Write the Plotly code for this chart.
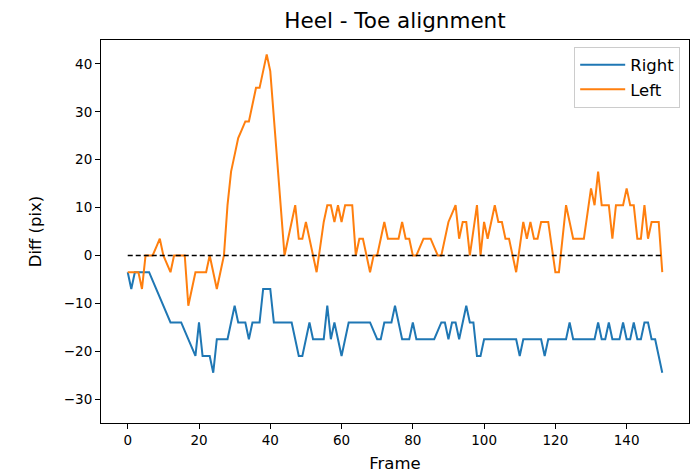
import plotly.graph_objects as go

frames = list(range(151))

right = [
    -3.5, -7, -3.5, -3.5, -3.5, -3.5, -3.5, -5.25, -7, -8.75,
    -10.5, -12.25, -14, -14, -14, -14, -15.75, -17.5, -19.25, -21,
    -14, -21, -21, -21, -24.5, -17.5, -17.5, -17.5, -17.5, -14,
    -10.5, -14, -14, -14, -17.5, -14, -14, -14, -7, -7,
    -7, -14, -14, -14, -14, -14, -14, -17.5, -21, -21,
    -17.5, -14, -17.5, -17.5, -17.5, -17.5, -10.5, -17.5, -14, -17.5,
    -21, -17.5, -14, -14, -14, -14, -14, -14, -14, -15.75,
    -17.5, -17.5, -14, -14, -14, -10.5, -14, -17.5, -17.5, -17.5,
    -14, -17.5, -17.5, -17.5, -17.5, -17.5, -17.5, -15.75, -14, -14,
    -17.5, -14, -14, -17.5, -14, -10.5, -14, -14, -21, -21,
    -17.5, -17.5, -17.5, -17.5, -17.5, -17.5, -17.5, -17.5, -17.5, -17.5,
    -21, -17.5, -17.5, -17.5, -17.5, -17.5, -17.5, -21, -17.5, -17.5,
    -17.5, -17.5, -17.5, -17.5, -14, -17.5, -17.5, -17.5, -17.5, -17.5,
    -17.5, -17.5, -14, -17.5, -17.5, -14, -17.5, -17.5, -17.5, -14,
    -17.5, -17.5, -14, -17.5, -17.5, -14, -14, -17.5, -17.5, -21,
    -24.5,
]

left = [
    -3.5, -3.5, -3.5, -3.5, -7, 0, 0, 0, 1.75, 3.5,
    0, -1.75, -3.5, 0, 0, 0, 0, -10.5, -7, -3.5,
    -3.5, -3.5, -3.5, 0, -3.5, -7, -3.5, 0, 10.5, 17.5,
    21, 24.5, 26.25, 28, 28, 31.5, 35, 35, 38.5, 42,
    38.5, 29, 19, 9, 0, 3.5, 7, 10.5, 3.5, 3.5,
    7, 3.5, 0, -3.5, 1.75, 7, 10.5, 10.5, 7, 10.5,
    7, 10.5, 10.5, 10.5, 0, 3.5, 3.5, 0, -3.5, 0,
    0, 3.5, 7, 3.5, 3.5, 3.5, 3.5, 7, 3.5, 3.5,
    0, 0, 1.75, 3.5, 3.5, 3.5, 1.75, 0, 0, 3.5,
    7, 8.75, 10.5, 3.5, 7, 7, 0, 5.25, 10.5, 0,
    7, 3.5, 7, 10.5, 7, 7, 3.5, 3.5, 0, -3.5,
    1.75, 7, 3.5, 7, 3.5, 3.5, 7, 7, 7, 1.75,
    -3.5, -3.5, 3.5, 10.5, 7, 3.5, 3.5, 3.5, 3.5, 8.75,
    14, 10.5, 17.5, 10.5, 10.5, 10.5, 3.5, 10.5, 10.5, 10.5,
    14, 10.5, 10.5, 3.5, 3.5, 10.5, 3.5, 7, 7, 7,
    -3.5,
]

baseline_x = [frames[0], frames[-1]]
baseline_y = [0, 0]

x_ticks = [0, 20, 40, 60, 80, 100, 120, 140]
y_ticks = [-30, -20, -10, 0, 10, 20, 30, 40]

fig = go.Figure()
fig.add_trace(go.Scatter(x=frames, y=right, mode="lines", name="Right",
                         line=dict(color="#1f77b4", width=2)))
fig.add_trace(go.Scatter(x=frames, y=left, mode="lines", name="Left",
                         line=dict(color="#ff7f0e", width=2)))
fig.add_trace(go.Scatter(x=baseline_x, y=baseline_y, mode="lines", showlegend=False,
                         line=dict(color="black", width=1.4, dash="5px,3px")))

font = dict(family="DejaVu Sans", size=13.5, color="black")
fig.update_layout(
    width=692, height=473,
    margin=dict(l=101, r=3, t=40, b=50, autoexpand=False),
    paper_bgcolor="white", plot_bgcolor="white",
    font=font,
    title=dict(text="Heel - Toe alignment", x=0.5, xref="paper", xanchor="center",
               y=1 - 20 / 473, yref="container", yanchor="middle",
               font=dict(family="DejaVu Sans", size=21.5, color="black")),
    showlegend=True,
    legend=dict(x=0.985, y=0.983, xanchor="right", yanchor="top",
                bgcolor="rgba(255,255,255,0.8)", bordercolor="#cccccc", borderwidth=1,
                font=dict(family="DejaVu Sans", size=16.5, color="black"),
                tracegroupgap=0, itemwidth=45),
)
fig.update_xaxes(range=[-7.5, 157.5], tickvals=x_ticks, ticks="outside", ticklen=5,
                 tickcolor="black", showline=True, linecolor="black", linewidth=1,
                 mirror=True, showgrid=False, zeroline=False, automargin=False,
                 tickfont=dict(size=13.5),
                 title=dict(text="Frame", standoff=10,
                            font=dict(family="DejaVu Sans", size=16.5, color="black")))
fig.update_yaxes(range=[-35, 45], tickvals=y_ticks, ticks="outside", ticklen=5,
                 tickcolor="black", showline=True, linecolor="black", linewidth=1,
                 mirror=True, showgrid=False, zeroline=False, automargin=False,
                 tickfont=dict(size=13.5),
                 title=dict(text="Diff (pix)", standoff=18,
                            font=dict(family="DejaVu Sans", size=16.5, color="black")))

fig.write_html("out.html", config={"displayModeBar": False},
               post_script="document.body.style.margin='0';")
